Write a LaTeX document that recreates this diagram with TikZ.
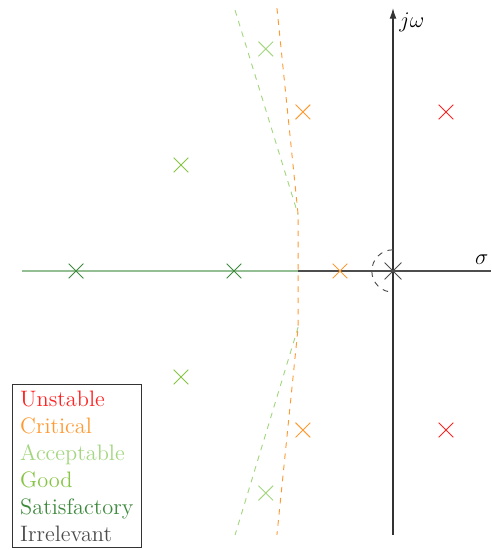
\documentclass[tikz,border=0pt]{standalone}
\usepackage{xcolor}
\usepackage{tikz}
\usetikzlibrary{arrows.meta,shapes.misc}

\definecolor{unstable}{HTML}{FF2424}
\definecolor{critical}{HTML}{FF9A33}
\definecolor{acceptable}{HTML}{A3D67F}
\definecolor{good}{HTML}{86C443}
\definecolor{satisfactory}{HTML}{3D8A3D}
\definecolor{irrelevant}{HTML}{4D4D4D}

\begin{document}
\begin{tikzpicture}[
  >={Latex[length=2mm,width=1.3mm]},
  pole/.style ={cross out, draw, inner sep=0pt, minimum size=2.6mm, line width=.5pt},
  axis/.style ={line width=.6pt, draw=irrelevant},
  bound/.style={dashed, line width=.5pt},
  lbl/.style  ={inner sep=1pt, font=\fontsize{12}{14.5}\selectfont}]

  \useasboundingbox (-7.415,-5.264) rectangle (1.849,5.113);

  % --- axes --------------------------------------------------------------
  \coordinate (west) at (-7.0,0);
  \coordinate (cut)  at (-1.79,0);
  \coordinate (east) at (1.85,0);
  \coordinate (south) at (0,-4.98);
  \coordinate (north) at (0,4.96);
  \draw[line width=.6pt, draw=satisfactory!55] (west) -- (cut);
  \draw[axis] (cut) -- (east);
  \draw[axis, ->, draw=black!80] (south) -- (north);
  \node[lbl, anchor=north west] (jw) at (0.08,4.92) {$j\omega$};
  \node[lbl, anchor=south east] (sig) at (1.84,0.08) {$\sigma$};

  % --- stability boundaries ---------------------------------------------
  \draw[bound, draw=acceptable] (-2.98,4.92) -- (-1.79,1.06);
  \draw[bound, draw=acceptable] (-1.79,-1.06) -- (-2.98,-4.98);
  \draw[bound, draw=critical]
    (-2.19,4.96) -- (-1.79,1.06) -- (-1.79,-1.06) -- (-2.19,-4.98);
  \draw[bound, draw=irrelevant] (0,0.4) arc[start angle=90, end angle=270, radius=0.4];

  % --- poles -------------------------------------------------------------
  \node[pole, draw=unstable]     (u1) at (1.0,3.0) {};
  \node[pole, draw=unstable]     (u2) at (1.0,-3.0) {};
  \node[pole, draw=critical]     (c1) at (-1.7,3.0) {};
  \node[pole, draw=critical]     (c2) at (-1.7,-3.0) {};
  \node[pole, draw=critical]     (c3) at (-1.0,0) {};
  \node[pole, draw=acceptable]   (a1) at (-2.4,4.19) {};
  \node[pole, draw=acceptable]   (a2) at (-2.4,-4.19) {};
  \node[pole, draw=good]         (g1) at (-4.0,2.0) {};
  \node[pole, draw=good]         (g2) at (-4.0,-2.0) {};
  \node[pole, draw=satisfactory] (s1) at (-5.98,0) {};
  \node[pole, draw=satisfactory] (s2) at (-3.0,0) {};
  \node[pole, draw=irrelevant, minimum size=3mm] (i1) at (0,0) {};

  % --- legend ------------------------------------------------------------
  \node[lbl, draw=black!80, line width=.5pt, align=left, anchor=south west,
        inner xsep=4.2pt, inner ysep=2pt, minimum height=3.08cm]
    (legend) at (-7.19,-5.23)
    {\textcolor{unstable}{Unstable}\\
     \textcolor{critical}{Critical}\\
     \textcolor{acceptable}{Acceptable}\\
     \textcolor{good}{Good}\\
     \textcolor{satisfactory}{Satisfactory}\\
     \textcolor{irrelevant}{Irrelevant}};
\end{tikzpicture}
\end{document}
